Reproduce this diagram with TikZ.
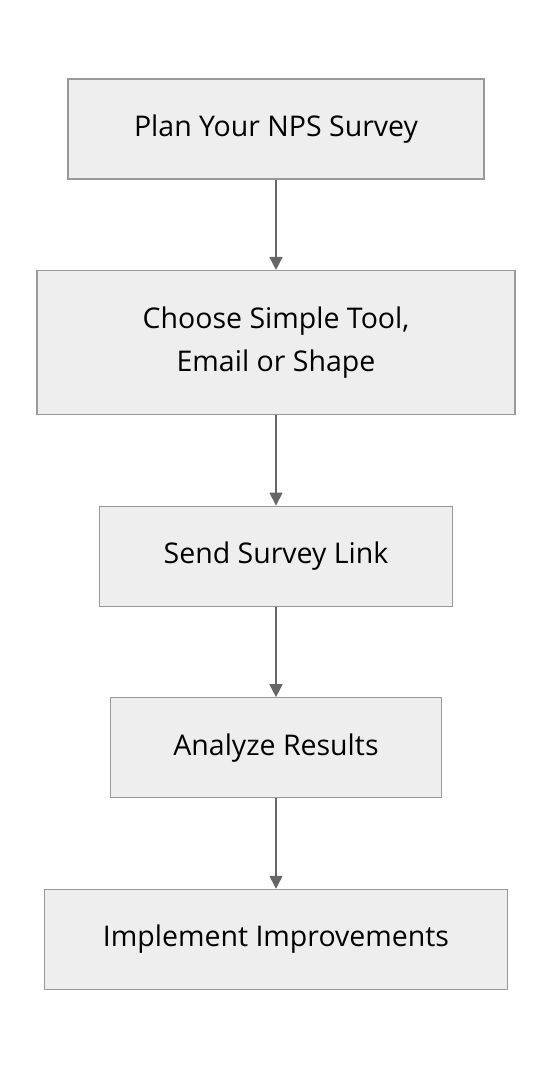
\documentclass[tikz,border=0pt]{standalone}
\usepackage{fontspec}
\setmainfont{Open Sans}
\usetikzlibrary{positioning,arrows.meta}

\definecolor{boxfill}{HTML}{EEEEEE}
\definecolor{boxline}{HTML}{999999}
\definecolor{arrowline}{HTML}{666666}

\tikzset{
  stepbox/.style={draw=boxline, fill=boxfill, line width=1.3pt, minimum height=100pt,
    align=center, font=\fontsize{28.5}{43}\selectfont, inner sep=0pt},
  flow/.style={draw=arrowline, line width=1.6pt, -{Triangle[length=13pt,width=13pt]}}
}

\begin{document}
\begin{tikzpicture}[x=1pt,y=-1pt,node distance=90.3pt]
% Frame
\useasboundingbox (0,0) rectangle (552,1068);

% Steps
\node[stepbox, minimum width=416pt] (plan) at (276,129) {Plan Your NPS Survey};
\node[stepbox, minimum width=478pt, minimum height=144pt, below=of plan] (choose) {Choose Simple Tool,\\ Email or Shape};
\node[stepbox, minimum width=353pt, below=of choose] (send) {Send Survey Link};
\node[stepbox, minimum width=331pt, below=of send] (analyze) {Analyze Results};
\node[stepbox, minimum width=463pt, below=of analyze] (improve) {Implement Improvements};

% Arrows
\draw[flow] (plan) -- (choose);
\draw[flow] (choose) -- (send);
\draw[flow] (send) -- (analyze);
\draw[flow] (analyze) -- (improve);

\end{tikzpicture}
\end{document}
